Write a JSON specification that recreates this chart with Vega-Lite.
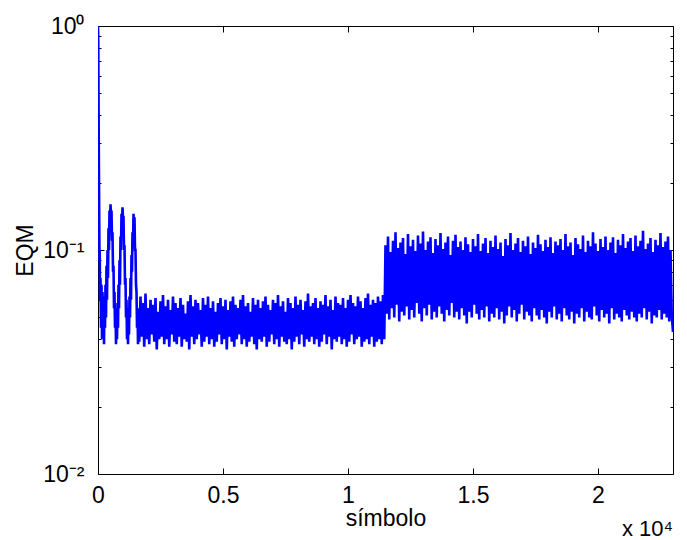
{
  "$schema": "https://vega.github.io/schema/vega-lite/v6.json",
  "width": 575,
  "height": 448,
  "autosize": {"type": "none"},
  "padding": {"left": 98, "top": 26, "right": 14, "bottom": 66},
  "background": "white",
  "config": {
    "view": {"stroke": "black", "strokeWidth": 1},
    "font": "Liberation Sans",
    "axis": {
      "domain": false,
      "grid": false,
      "tickColor": "black",
      "tickWidth": 1,
      "labelColor": "black",
      "titleColor": "black",
      "labelFont": "Liberation Sans",
      "titleFont": "Liberation Sans",
      "labelFontSize": 23,
      "titleFontSize": 23,
      "titleFontWeight": "normal"
    }
  },
  "resolve": {"axis": {"x": "independent", "y": "independent"}},
  "layer": [
    {
      "data": {"values": [
        {"s":0,"e":1.0},{"s":10,"e":0.85},{"s":20,"e":0.5},{"s":30,"e":0.3},{"s":40,"e":0.2},{"s":50,"e":0.13},{"s":60,"e":0.09},{"s":70,"e":0.1},{"s":80,"e":0.06},{"s":100,"e":0.075},{"s":120,"e":0.045},{"s":140,"e":0.07},{"s":160,"e":0.04},{"s":180,"e":0.065},{"s":200,"e":0.042},{"s":220,"e":0.06},{"s":240,"e":0.038},{"s":260,"e":0.062},{"s":280,"e":0.045},{"s":300,"e":0.07},{"s":320,"e":0.05},{"s":340,"e":0.085},{"s":360,"e":0.06},{"s":380,"e":0.1},{"s":400,"e":0.075},{"s":420,"e":0.125},{"s":440,"e":0.1},{"s":460,"e":0.15},{"s":480,"e":0.13},{"s":500,"e":0.16},{"s":520,"e":0.145},{"s":540,"e":0.15},{"s":560,"e":0.11},{"s":580,"e":0.12},{"s":600,"e":0.08},{"s":620,"e":0.085},{"s":640,"e":0.055},{"s":660,"e":0.065},{"s":680,"e":0.045},{"s":700,"e":0.055},{"s":720,"e":0.038},{"s":740,"e":0.052},{"s":760,"e":0.04},{"s":780,"e":0.058},{"s":800,"e":0.045},{"s":820,"e":0.07},{"s":840,"e":0.055},{"s":860,"e":0.09},{"s":880,"e":0.07},{"s":900,"e":0.115},{"s":920,"e":0.1},{"s":940,"e":0.145},{"s":960,"e":0.125},{"s":980,"e":0.155},{"s":1000,"e":0.14},{"s":1020,"e":0.14},{"s":1040,"e":0.1},{"s":1060,"e":0.105},{"s":1080,"e":0.07},{"s":1100,"e":0.075},{"s":1120,"e":0.05},{"s":1140,"e":0.06},{"s":1160,"e":0.04},{"s":1180,"e":0.052},{"s":1200,"e":0.038},{"s":1220,"e":0.055},{"s":1240,"e":0.042},{"s":1260,"e":0.062},{"s":1280,"e":0.05},{"s":1300,"e":0.075},{"s":1320,"e":0.06},{"s":1340,"e":0.095},{"s":1360,"e":0.08},{"s":1380,"e":0.12},{"s":1400,"e":0.105},{"s":1420,"e":0.145},{"s":1440,"e":0.13},{"s":1460,"e":0.14},{"s":1480,"e":0.1},{"s":1500,"e":0.1},{"s":1520,"e":0.07},{"s":1540,"e":0.065},{"s":1560,"e":0.045},{"s":1580,"e":0.055},{"s":1600,"e":0.038},{"s":1620,"e":0.05},
        {"s":1650,"e":0.039},{"s":1700,"e":0.062},{"s":1750,"e":0.041},{"s":1800,"e":0.058},{"s":1850,"e":0.037},{"s":1900,"e":0.064},{"s":1950,"e":0.04},{"s":2000,"e":0.055},{"s":2050,"e":0.038},{"s":2100,"e":0.06},{"s":2150,"e":0.042},{"s":2200,"e":0.057},{"s":2250,"e":0.039},{"s":2300,"e":0.061},{"s":2350,"e":0.036},{"s":2400,"e":0.053},{"s":2450,"e":0.04},{"s":2500,"e":0.059},{"s":2550,"e":0.041},{"s":2600,"e":0.063},
        {"s":2650,"e":0.038},{"s":2700,"e":0.056},{"s":2750,"e":0.04},{"s":2800,"e":0.06},{"s":2850,"e":0.037},{"s":2900,"e":0.054},{"s":2950,"e":0.042},{"s":3000,"e":0.062},{"s":3050,"e":0.039},{"s":3100,"e":0.058},{"s":3150,"e":0.038},{"s":3200,"e":0.055},{"s":3250,"e":0.041},{"s":3300,"e":0.061},{"s":3350,"e":0.037},{"s":3400,"e":0.057},{"s":3450,"e":0.04},{"s":3500,"e":0.052},{"s":3550,"e":0.039},{"s":3600,"e":0.059},
        {"s":3650,"e":0.036},{"s":3700,"e":0.063},{"s":3750,"e":0.041},{"s":3800,"e":0.056},{"s":3850,"e":0.038},{"s":3900,"e":0.06},{"s":3950,"e":0.04},{"s":4000,"e":0.058},{"s":4050,"e":0.042},{"s":4100,"e":0.054},{"s":4150,"e":0.037},{"s":4200,"e":0.061},{"s":4250,"e":0.039},{"s":4300,"e":0.057},{"s":4350,"e":0.041},{"s":4400,"e":0.062},{"s":4450,"e":0.038},{"s":4500,"e":0.055},{"s":4550,"e":0.04},{"s":4600,"e":0.059},
        {"s":4650,"e":0.037},{"s":4700,"e":0.053},{"s":4750,"e":0.039},{"s":4800,"e":0.058},{"s":4850,"e":0.042},{"s":4900,"e":0.061},{"s":4950,"e":0.038},{"s":5000,"e":0.056},{"s":5050,"e":0.04},{"s":5100,"e":0.06},{"s":5150,"e":0.036},{"s":5200,"e":0.054},{"s":5250,"e":0.041},{"s":5300,"e":0.059},{"s":5350,"e":0.039},{"s":5400,"e":0.062},{"s":5450,"e":0.037},{"s":5500,"e":0.057},{"s":5550,"e":0.04},{"s":5600,"e":0.055},
        {"s":5650,"e":0.042},{"s":5700,"e":0.06},{"s":5750,"e":0.038},{"s":5800,"e":0.063},{"s":5850,"e":0.04},{"s":5900,"e":0.056},{"s":5950,"e":0.037},{"s":6000,"e":0.058},{"s":6050,"e":0.039},{"s":6100,"e":0.053},{"s":6150,"e":0.041},{"s":6200,"e":0.061},{"s":6250,"e":0.038},{"s":6300,"e":0.057},{"s":6350,"e":0.036},{"s":6400,"e":0.06},{"s":6450,"e":0.04},{"s":6500,"e":0.055},{"s":6550,"e":0.039},{"s":6600,"e":0.059},
        {"s":6650,"e":0.041},{"s":6700,"e":0.062},{"s":6750,"e":0.037},{"s":6800,"e":0.057},{"s":6850,"e":0.039},{"s":6900,"e":0.054},{"s":6950,"e":0.042},{"s":7000,"e":0.06},{"s":7050,"e":0.038},{"s":7100,"e":0.058},{"s":7150,"e":0.04},{"s":7200,"e":0.063},{"s":7250,"e":0.037},{"s":7300,"e":0.056},{"s":7350,"e":0.041},{"s":7400,"e":0.059},{"s":7450,"e":0.039},{"s":7500,"e":0.053},{"s":7550,"e":0.038},{"s":7600,"e":0.061},
        {"s":7650,"e":0.04},{"s":7700,"e":0.058},{"s":7750,"e":0.036},{"s":7800,"e":0.055},{"s":7850,"e":0.039},{"s":7900,"e":0.062},{"s":7950,"e":0.041},{"s":8000,"e":0.057},{"s":8050,"e":0.038},{"s":8100,"e":0.06},{"s":8150,"e":0.042},{"s":8200,"e":0.054},{"s":8250,"e":0.037},{"s":8300,"e":0.059},{"s":8350,"e":0.04},{"s":8400,"e":0.064},{"s":8450,"e":0.039},{"s":8500,"e":0.056},{"s":8550,"e":0.041},{"s":8600,"e":0.058},
        {"s":8650,"e":0.038},{"s":8700,"e":0.061},{"s":8750,"e":0.04},{"s":8800,"e":0.055},{"s":8850,"e":0.037},{"s":8900,"e":0.059},{"s":8950,"e":0.039},{"s":9000,"e":0.057},{"s":9050,"e":0.042},{"s":9100,"e":0.063},{"s":9150,"e":0.038},{"s":9200,"e":0.056},{"s":9250,"e":0.041},{"s":9300,"e":0.06},{"s":9350,"e":0.036},{"s":9400,"e":0.054},{"s":9450,"e":0.04},{"s":9500,"e":0.062},{"s":9550,"e":0.039},{"s":9600,"e":0.058},
        {"s":9650,"e":0.041},{"s":9700,"e":0.057},{"s":9750,"e":0.038},{"s":9800,"e":0.061},{"s":9850,"e":0.04},{"s":9900,"e":0.055},{"s":9950,"e":0.037},{"s":10000,"e":0.06},{"s":10050,"e":0.039},{"s":10100,"e":0.063},{"s":10150,"e":0.042},{"s":10200,"e":0.058},{"s":10250,"e":0.038},{"s":10300,"e":0.056},{"s":10350,"e":0.04},{"s":10400,"e":0.062},{"s":10450,"e":0.041},{"s":10500,"e":0.059},{"s":10550,"e":0.037},{"s":10600,"e":0.055},
        {"s":10650,"e":0.039},{"s":10700,"e":0.061},{"s":10750,"e":0.04},{"s":10800,"e":0.064},{"s":10850,"e":0.038},{"s":10900,"e":0.057},{"s":10950,"e":0.041},{"s":11000,"e":0.06},{"s":11050,"e":0.037},{"s":11100,"e":0.058},{"s":11150,"e":0.039},{"s":11200,"e":0.062},{"s":11250,"e":0.04},{"s":11300,"e":0.059},{"s":11350,"e":0.038},{"s":11400,"e":0.063},{"s":11450,"e":0.04},
        {"s":11500,"e":0.105},{"s":11550,"e":0.052},{"s":11600,"e":0.115},{"s":11650,"e":0.049},{"s":11700,"e":0.098},{"s":11750,"e":0.055},{"s":11800,"e":0.11},{"s":11850,"e":0.05},{"s":11900,"e":0.12},{"s":11950,"e":0.057},{"s":12000,"e":0.102},{"s":12050,"e":0.048},{"s":12100,"e":0.108},{"s":12150,"e":0.053},{"s":12200,"e":0.113},{"s":12250,"e":0.051},{"s":12300,"e":0.096},{"s":12350,"e":0.056},{"s":12400,"e":0.118},{"s":12450,"e":0.049},
        {"s":12500,"e":0.104},{"s":12550,"e":0.054},{"s":12600,"e":0.111},{"s":12650,"e":0.05},{"s":12700,"e":0.099},{"s":12750,"e":0.058},{"s":12800,"e":0.116},{"s":12850,"e":0.052},{"s":12900,"e":0.107},{"s":12950,"e":0.048},{"s":13000,"e":0.121},{"s":13050,"e":0.055},{"s":13100,"e":0.1},{"s":13150,"e":0.051},{"s":13200,"e":0.109},{"s":13250,"e":0.057},{"s":13300,"e":0.114},{"s":13350,"e":0.049},{"s":13400,"e":0.097},{"s":13450,"e":0.053},
        {"s":13500,"e":0.112},{"s":13550,"e":0.05},{"s":13600,"e":0.105},{"s":13650,"e":0.056},{"s":13700,"e":0.119},{"s":13750,"e":0.052},{"s":13800,"e":0.101},{"s":13850,"e":0.048},{"s":13900,"e":0.108},{"s":13950,"e":0.054},{"s":14000,"e":0.115},{"s":14050,"e":0.051},{"s":14100,"e":0.095},{"s":14150,"e":0.058},{"s":14200,"e":0.11},{"s":14250,"e":0.05},{"s":14300,"e":0.117},{"s":14350,"e":0.053},{"s":14400,"e":0.103},{"s":14450,"e":0.049},
        {"s":14500,"e":0.109},{"s":14550,"e":0.055},{"s":14600,"e":0.1},{"s":14650,"e":0.051},{"s":14700,"e":0.114},{"s":14750,"e":0.047},{"s":14800,"e":0.106},{"s":14850,"e":0.053},{"s":14900,"e":0.098},{"s":14950,"e":0.05},{"s":15000,"e":0.112},{"s":15050,"e":0.057},{"s":15100,"e":0.104},{"s":15150,"e":0.052},{"s":15200,"e":0.118},{"s":15250,"e":0.049},{"s":15300,"e":0.099},{"s":15350,"e":0.054},{"s":15400,"e":0.107},{"s":15450,"e":0.05},
        {"s":15500,"e":0.113},{"s":15550,"e":0.056},{"s":15600,"e":0.097},{"s":15650,"e":0.048},{"s":15700,"e":0.11},{"s":15750,"e":0.052},{"s":15800,"e":0.103},{"s":15850,"e":0.05},{"s":15900,"e":0.116},{"s":15950,"e":0.055},{"s":16000,"e":0.101},{"s":16050,"e":0.049},{"s":16100,"e":0.108},{"s":16150,"e":0.053},{"s":16200,"e":0.094},{"s":16250,"e":0.047},{"s":16300,"e":0.112},{"s":16350,"e":0.051},{"s":16400,"e":0.105},{"s":16450,"e":0.056},
        {"s":16500,"e":0.119},{"s":16550,"e":0.05},{"s":16600,"e":0.1},{"s":16650,"e":0.054},{"s":16700,"e":0.107},{"s":16750,"e":0.048},{"s":16800,"e":0.113},{"s":16850,"e":0.052},{"s":16900,"e":0.098},{"s":16950,"e":0.057},{"s":17000,"e":0.11},{"s":17050,"e":0.049},{"s":17100,"e":0.104},{"s":17150,"e":0.053},{"s":17200,"e":0.115},{"s":17250,"e":0.051},{"s":17300,"e":0.096},{"s":17350,"e":0.048},{"s":17400,"e":0.108},{"s":17450,"e":0.055},
        {"s":17500,"e":0.102},{"s":17550,"e":0.051},{"s":17600,"e":0.117},{"s":17650,"e":0.049},{"s":17700,"e":0.106},{"s":17750,"e":0.054},{"s":17800,"e":0.099},{"s":17850,"e":0.05},{"s":17900,"e":0.111},{"s":17950,"e":0.047},{"s":18000,"e":0.103},{"s":18050,"e":0.053},{"s":18100,"e":0.114},{"s":18150,"e":0.05},{"s":18200,"e":0.097},{"s":18250,"e":0.056},{"s":18300,"e":0.109},{"s":18350,"e":0.049},{"s":18400,"e":0.105},{"s":18450,"e":0.052},
        {"s":18500,"e":0.112},{"s":18550,"e":0.048},{"s":18600,"e":0.1},{"s":18650,"e":0.055},{"s":18700,"e":0.118},{"s":18750,"e":0.051},{"s":18800,"e":0.104},{"s":18850,"e":0.049},{"s":18900,"e":0.108},{"s":18950,"e":0.053},{"s":19000,"e":0.095},{"s":19050,"e":0.047},{"s":19100,"e":0.113},{"s":19150,"e":0.052},{"s":19200,"e":0.106},{"s":19250,"e":0.05},{"s":19300,"e":0.101},{"s":19350,"e":0.055},{"s":19400,"e":0.116},{"s":19450,"e":0.048},
        {"s":19500,"e":0.098},{"s":19550,"e":0.053},{"s":19600,"e":0.11},{"s":19650,"e":0.05},{"s":19700,"e":0.104},{"s":19750,"e":0.049},{"s":19800,"e":0.12},{"s":19850,"e":0.056},{"s":19900,"e":0.107},{"s":19950,"e":0.051},{"s":20000,"e":0.099},{"s":20050,"e":0.048},{"s":20100,"e":0.112},{"s":20150,"e":0.054},{"s":20200,"e":0.103},{"s":20250,"e":0.05},{"s":20300,"e":0.115},{"s":20350,"e":0.052},{"s":20400,"e":0.1},{"s":20450,"e":0.047},
        {"s":20500,"e":0.108},{"s":20550,"e":0.055},{"s":20600,"e":0.114},{"s":20650,"e":0.049},{"s":20700,"e":0.097},{"s":20750,"e":0.052},{"s":20800,"e":0.111},{"s":20850,"e":0.05},{"s":20900,"e":0.105},{"s":20950,"e":0.048},{"s":21000,"e":0.118},{"s":21050,"e":0.054},{"s":21100,"e":0.102},{"s":21150,"e":0.051},{"s":21200,"e":0.109},{"s":21250,"e":0.049},{"s":21300,"e":0.113},{"s":21350,"e":0.053},{"s":21400,"e":0.099},{"s":21450,"e":0.05},
        {"s":21500,"e":0.116},{"s":21550,"e":0.048},{"s":21600,"e":0.104},{"s":21650,"e":0.052},{"s":21700,"e":0.11},{"s":21750,"e":0.05},{"s":21800,"e":0.122},{"s":21850,"e":0.055},{"s":21900,"e":0.101},{"s":21950,"e":0.049},{"s":22000,"e":0.107},{"s":22050,"e":0.053},{"s":22100,"e":0.113},{"s":22150,"e":0.047},{"s":22200,"e":0.098},{"s":22250,"e":0.051},{"s":22300,"e":0.111},{"s":22350,"e":0.05},{"s":22400,"e":0.105},{"s":22450,"e":0.054},
        {"s":22500,"e":0.119},{"s":22550,"e":0.049},{"s":22600,"e":0.103},{"s":22650,"e":0.052},{"s":22700,"e":0.109},{"s":22750,"e":0.05},{"s":22800,"e":0.115},{"s":22850,"e":0.048},{"s":22900,"e":0.1},{"s":22950,"e":0.051},{"s":23000,"e":0.043}
      ]},
      "mark": {"type": "line", "color": "#0000ff", "strokeWidth": 2.6, "clip": true},
      "encoding": {
        "x": {
          "field": "s", "type": "quantitative",
          "scale": {"domain": [0, 23000], "nice": false, "zero": false},
          "axis": {
            "orient": "bottom",
            "values": [0, 5000, 10000, 15000, 20000],
            "labelExpr": "'' + datum.value / 10000",
            "tickSize": -6,
            "labelPadding": 16,
            "labelFlush": false,
            "title": "símbolo",
            "titlePadding": 0
          }
        },
        "y": {
          "field": "e", "type": "quantitative",
          "scale": {"type": "log", "domain": [0.01, 1], "nice": false},
          "axis": {
            "orient": "left",
            "values": [0.01, 0.02, 0.03, 0.04, 0.05, 0.06, 0.07, 0.08, 0.09, 0.1, 0.2, 0.3, 0.4, 0.5, 0.6, 0.7, 0.8, 0.9, 1],
            "labelExpr": "datum.value == 1 ? '10⁰' : datum.value == 0.1 ? '10⁻¹' : datum.value == 0.01 ? '10⁻²' : ''",
            "tickSize": {"condition": {"test": "datum.value == 1 || datum.value == 0.1 || datum.value == 0.01", "value": -6}, "value": -3},
            "labelPadding": 20,
            "labelFlush": false,
            "title": "EQM",
            "titlePadding": 5
          }
        }
      }
    },
    {
      "data": {"values": [{"s": 23000, "e": 0.01, "t": "x 10⁴"}]},
      "mark": {"type": "text", "align": "right", "baseline": "alphabetic", "dy": 62, "fontSize": 22, "font": "Liberation Sans", "color": "black"},
      "encoding": {
        "x": {
          "field": "s", "type": "quantitative",
          "scale": {"domain": [0, 23000], "nice": false, "zero": false},
          "axis": {"orient": "top", "values": [0, 5000, 10000, 15000, 20000], "labels": false, "tickSize": -6, "title": null}
        },
        "y": {
          "field": "e", "type": "quantitative",
          "scale": {"type": "log", "domain": [0.01, 1], "nice": false},
          "axis": {
            "orient": "right",
            "values": [0.01, 0.02, 0.03, 0.04, 0.05, 0.06, 0.07, 0.08, 0.09, 0.1, 0.2, 0.3, 0.4, 0.5, 0.6, 0.7, 0.8, 0.9, 1],
            "labels": false,
            "tickSize": {"condition": {"test": "datum.value == 1 || datum.value == 0.1 || datum.value == 0.01", "value": -6}, "value": -3},
            "title": null
          }
        },
        "text": {"field": "t"}
      }
    }
  ]
}
